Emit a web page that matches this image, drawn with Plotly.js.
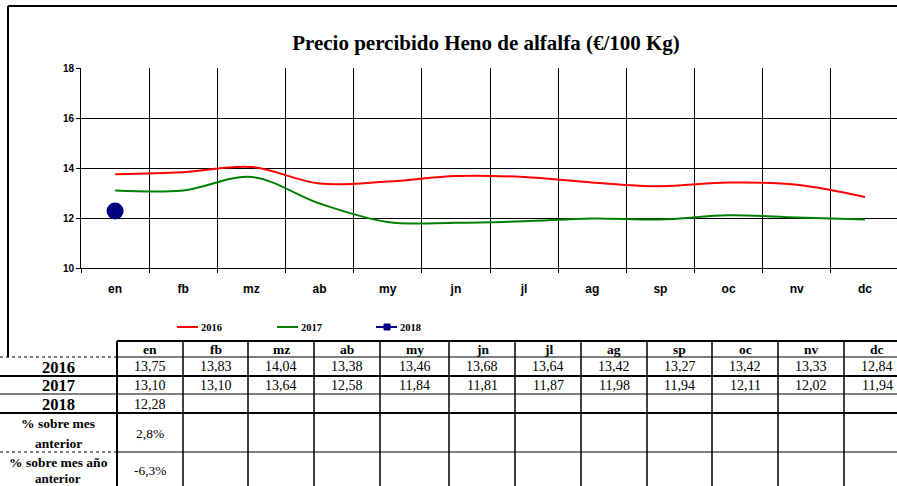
<!DOCTYPE html>
<html>
<head>
<meta charset="utf-8">
<script src="https://cdn.plot.ly/plotly-3.0.1.min.js"></script>
<style>html,body{margin:0;padding:0;background:#fff;}#chart{width:897px;height:486px;}</style>
</head>
<body>
<div id="chart"></div>
<script>
const months = ['en','fb','mz','ab','my','jn','jl','ag','sp','oc','nv','dc'];
const v2016 = [13.75,13.83,14.04,13.38,13.46,13.68,13.64,13.42,13.27,13.42,13.33,12.84];
const v2017 = [13.10,13.10,13.64,12.58,11.84,11.81,11.87,11.98,11.94,12.11,12.02,11.94];
const v2018 = [12.28];
const yearLabels = ['2016','2017','2018'];
const pctMonth = ['2,8%'];
const pctYear = ['-6,3%'];
const yTicks = [10,12,14,16,18];

// pixel geometry of plot area
const L = 81, T = 68, W = 816, H = 200;
const px = x => (x - L) / W;
const py = y => (T + H - y) / H;

const shapes = [];
const ann = [];
function hline(x0, x1, y, w, dash) {
  shapes.push({type:'line', xref:'paper', yref:'paper', x0:px(x0), x1:px(x1), y0:py(y), y1:py(y),
    line:{color:'#000', width:w, dash:dash||'solid'}});
}
function vline(x, y0, y1, w) {
  shapes.push({type:'line', xref:'paper', yref:'paper', x0:px(x), x1:px(x), y0:py(y0), y1:py(y1),
    line:{color:'#000', width:w}});
}
function text(t, x, y, size, bold) {
  ann.push({xref:'paper', yref:'paper', x:px(x), y:py(y), text: bold ? '<b>'+t+'</b>' : t,
    showarrow:false, xanchor:'center', yanchor:'middle',
    font:{family:'Liberation Serif', size:size, color:'#000'}});
}

// outer frame
hline(8, 897, 6, 2);
vline(8, 6, 357, 2);

// legend
const legendItems = [
  {name:'2016', color:'#FF0000', x:177},
  {name:'2017', color:'#008000', x:277},
  {name:'2018', color:'#000080', x:376}
];
legendItems.forEach(it => {
  shapes.push({type:'line', xref:'paper', yref:'paper', x0:px(it.x), x1:px(it.x+21), y0:py(327), y1:py(327),
    line:{color:it.color, width:2}});
  ann.push({xref:'paper', yref:'paper', x:px(it.x+22), y:py(327), text:'<b>'+it.name+'</b>', showarrow:false,
    xanchor:'left', yanchor:'middle', font:{family:'Liberation Serif', size:10.5, color:'#000'}});
});
shapes.push({type:'rect', xref:'paper', yref:'paper', x0:px(384), x1:px(390), y0:py(324), y1:py(330),
  fillcolor:'#000080', line:{color:'#000080', width:1}});

// table
const colB = [117,183,248,314,380,449,515,581,647,712,778,844,910];
hline(117, 897, 341, 2);
hline(0, 117, 357, 1, 'dot');
hline(117, 897, 357, 1);
hline(0, 897, 376, 2);
hline(0, 897, 394, 1);
hline(0, 897, 413, 2);
hline(0, 117, 452, 1, 'dot');
hline(117, 897, 452, 1);
colB.forEach((x, i) => { if (x <= 897) vline(x, 341, 486, i === 0 ? 2 : 1.5); });

const fmt = v => v.toFixed(2).replace('.', ',');
months.forEach((m, i) => {
  const cx = (colB[i] + colB[i+1]) / 2;
  text(m, cx, 349.5, 13.5, true);
  text(fmt(v2016[i]), cx, 366.5, 14, false);
  text(fmt(v2017[i]), cx, 385, 14, false);
  if (i < v2018.length) text(fmt(v2018[i]), cx, 404, 14, false);
  if (i < pctMonth.length) text(pctMonth[i], cx, 433, 13.5, false);
  if (i < pctYear.length) text(pctYear[i], cx, 471, 13.5, false);
});
text(yearLabels[0], 58, 367, 16.5, true);
text(yearLabels[1], 58, 385.5, 16.5, true);
text(yearLabels[2], 58, 404, 16.5, true);
text('% sobre mes', 58, 423, 13.5, true);
text('anterior', 58, 443, 13.5, true);
text('% sobre mes año', 58, 462, 13.5, true);
text('anterior', 58, 478.5, 13, true);

const traces = [
  {x: months, y: v2016, type:'scatter', mode:'lines', name:'2016',
   line:{color:'#FF0000', width:2, shape:'spline', smoothing:1}},
  {x: months, y: v2017, type:'scatter', mode:'lines', name:'2017',
   line:{color:'#008000', width:2, shape:'spline', smoothing:1}},
  {x: months.slice(0, v2018.length), y: v2018, type:'scatter', mode:'markers', name:'2018',
   marker:{color:'#000080', size:17, symbol:'circle'}}
];

const layout = {
  width: 897, height: 486,
  margin: {l: L, r: 0, t: T, b: 486 - T - H, pad: 0},
  paper_bgcolor: '#fff', plot_bgcolor: '#fff',
  showlegend: false,
  title: {text: '<b>Precio percibido Heno de alfalfa (€/100 Kg)</b>', xref:'container', yref:'container',
    x: 486/897, y: 1 - 43/486, xanchor:'center', yanchor:'middle',
    font: {family:'Liberation Serif', size:21, color:'#000'}},
  xaxis: {type:'category', categoryorder:'array', categoryarray: months, range:[-0.5, 11.47],
    tickson:'boundaries', showgrid:true, gridcolor:'#000', gridwidth:1,
    showline:true, linecolor:'#000', linewidth:1, ticks:'outside', ticklen:4, tickcolor:'#000',
    ticklabelstandoff: 10,
    tickfont:{family:'Liberation Sans', size:12, color:'#000', weight:'bold'}, fixedrange:true},
  yaxis: {range:[10,18], tickvals: yTicks, ticktext: yTicks.map(String), showgrid:true, gridcolor:'#000', gridwidth:1,
    zeroline:false, showline:true, linecolor:'#000', linewidth:1, ticks:'outside', ticklen:4, tickcolor:'#000',
    tickfont:{family:'Liberation Sans', size:10, color:'#000', weight:'bold'}, fixedrange:true},
  shapes: shapes,
  annotations: ann
};

Plotly.newPlot('chart', traces, layout, {displayModeBar:false, staticPlot:true});
</script>
</body>
</html>
